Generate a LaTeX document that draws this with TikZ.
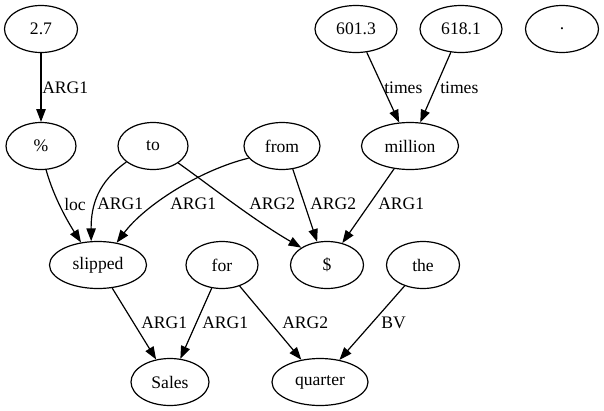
\documentclass[tikz,border=0pt]{standalone}
\usepackage{fontspec}
\setmainfont{Liberation Serif}
\usetikzlibrary{shapes.geometric,arrows.meta}
\tikzset{
  word/.style={draw, ellipse, line width=0.9pt, inner sep=0pt, minimum height=35.25pt, font=\fontsize{13.2}{15}\selectfont},
  rel/.style={-{Triangle[length=9.5pt,width=7pt]}, line width=0.9pt},
  lab/.style={anchor=west, inner sep=0pt, font=\fontsize{13.2}{15}\selectfont}
}
\begin{document}
\begin{tikzpicture}[x=0.75pt, y=-0.75pt]
\useasboundingbox (0,0) rectangle (604,411);
% nodes
\node[word, minimum width=54.75pt] (n27) at (41,29) {2.7};
\node[word, minimum width=61.5pt] (n6013) at (356,29) {601.3};
\node[word, minimum width=61.5pt] (n6181) at (461,29) {618.1};
\node[word, minimum width=54.75pt] (ndot) at (562,29) {.};
\node[word, minimum width=52.5pt] (npct) at (41,146) {\%};
\node[word, minimum width=52.5pt] (nto) at (153,146) {to};
\node[word, minimum width=57pt] (nfrom) at (282,146) {from};
\node[word, minimum width=72.75pt] (nmillion) at (410,146) {million};
\node[word, minimum width=72.75pt] (nslipped) at (98,265) {slipped};
\node[word, minimum width=54pt] (nfor) at (222,265) {for};
\node[word, minimum width=54.75pt] (ndollar) at (327,265) {\$};
\node[word, minimum width=54.75pt] (nthe) at (423,265) {the};
\node[word, minimum width=58.5pt] (nsales) at (170,382) {Sales};
\node[word, minimum width=72pt] (nquarter) at (320,382) {quarter};
% edges
\draw[rel] (n27) -- (npct);
\draw[rel] (n6013) -- (nmillion);
\draw[rel] (n6181) -- (nmillion);
\draw[rel] (npct.-78) .. controls (54,198) and (68,222) .. (nslipped.127);
\draw[rel] (nto.-149) .. controls (98,182) and (91,205) .. (nslipped.106);
\draw[rel] (nfrom.-160) .. controls (200,170) and (145,205) .. (nslipped.50);
\draw[rel] (nto.-34) .. controls (208,184) and (252,219) .. (ndollar.146);
\draw[rel] (nfrom.-65) -- (ndollar.113);
\draw[rel] (nmillion) -- (ndollar);
\draw[rel] (nslipped) -- (nsales);
\draw[rel] (nfor) -- (nsales);
\draw[rel] (nfor) -- (nquarter);
\draw[rel] (nthe) -- (nquarter);
% labels
\node[lab] (l1) at (42,88) {ARG1};
\node[lab] (l2) at (384,88) {times};
\node[lab] (l3) at (440,88) {times};
\node[lab] (l4) at (64,204) {loc};
\node[lab] (l5) at (97,204) {ARG1};
\node[lab] (l6) at (170,204) {ARG1};
\node[lab] (l7) at (249,204) {ARG2};
\node[lab] (l8) at (310,204) {ARG2};
\node[lab] (l9) at (378,204) {ARG1};
\node[lab] (l10) at (141,323) {ARG1};
\node[lab] (l11) at (202,323) {ARG1};
\node[lab] (l12) at (282,323) {ARG2};
\node[lab] (l13) at (381,323) {BV};
\end{tikzpicture}
\end{document}
